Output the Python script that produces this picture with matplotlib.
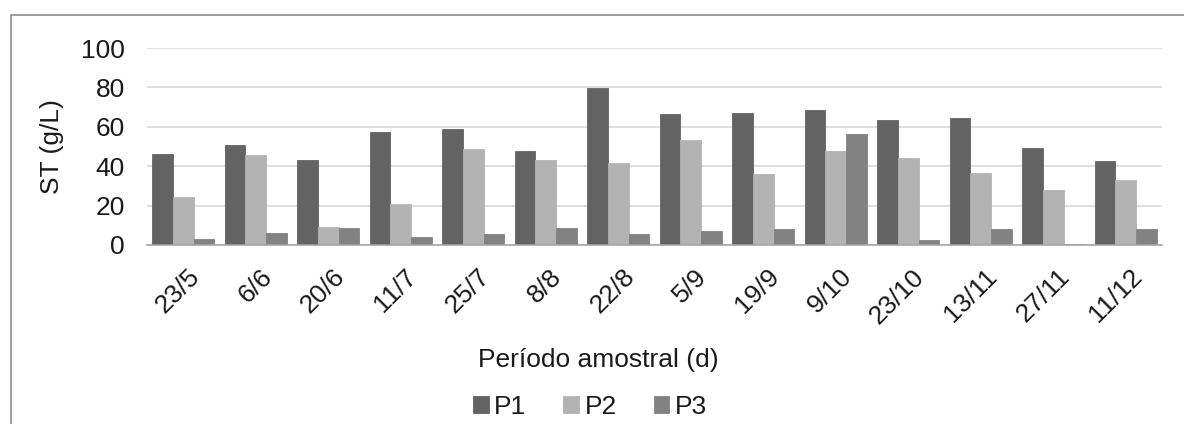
import matplotlib
matplotlib.use("Agg")
import matplotlib.pyplot as plt
from matplotlib.patches import Rectangle
from matplotlib.transforms import ScaledTranslation
import numpy as np

plt.rcParams['font.family'] = ['Liberation Sans', 'DejaVu Sans']

dates = ["23/5", "6/6", "20/6", "11/7", "25/7", "8/8", "22/8", "5/9",
         "19/9", "9/10", "23/10", "13/11", "27/11", "11/12"]
p1 = [46.3, 50.9, 43.4, 57.3, 59.1, 47.7, 79.8, 66.3, 66.8, 68.4, 63.2, 64.3, 49.1, 42.7]
p2 = [24.4, 45.5, 9.1, 21.0, 48.5, 43.4, 41.7, 53.5, 36.1, 47.9, 44.3, 36.4, 27.7, 33.0]
p3 = [3.2, 6.2, 8.5, 3.9, 5.5, 8.7, 5.5, 7.2, 7.9, 56.1, 2.4, 8.0, 0.3, 7.9]
series = [("P1", p1, "#636363"), ("P2", p2, "#b3b3b3"), ("P3", p3, "#828282")]

FS = 19
TXT = '#1a1a1a'

W, H = 1184, 424
fig = plt.figure(figsize=(W / 100, H / 100), dpi=100)
ax = fig.add_axes([147 / W, 1 - 245 / H, (1162 - 147) / W, (245 - 48) / H])

x = np.arange(len(dates))
bw = 0.285
for i, (name, vals, col) in enumerate(series):
    ax.bar(x + (i - 1) * bw, vals, bw, color=col, edgecolor=col,
           linewidth=0.6, label=name, zorder=3)

ax.set_xlim(-0.5, len(dates) - 0.5)
ax.set_ylim(0, 100)
ax.set_yticks(range(0, 101, 20))
ax.grid(axis='y', color='#d9d9d9', linewidth=1.2, zorder=0)
for s in ['top', 'right', 'left']:
    ax.spines[s].set_visible(False)
ax.spines['bottom'].set_color('#a6a6a6')
ax.spines['bottom'].set_linewidth(1.2)
ax.spines['bottom'].set_zorder(4)
ax.tick_params(axis='y', length=0, pad=16, labelsize=FS, labelcolor=TXT)
ax.tick_params(axis='x', length=0, pad=14, labelsize=FS, labelcolor=TXT)
ax.set_xticks(x)
ax.set_xticklabels(dates, rotation=45, ha='right', rotation_mode='anchor')
shift = ScaledTranslation(4 / 100, 0, fig.dpi_scale_trans)
for lab in ax.get_xticklabels():
    lab.set_transform(lab.get_transform() + shift)

ax.set_ylabel("ST (g/L)", fontsize=FS, color=TXT, labelpad=12)
fig.text(598 / W, 1 - 360 / H, "Período amostral (d)", fontsize=FS,
         color=TXT, ha='center', va='center')

fig.legend(loc='center', bbox_to_anchor=(590 / W, 1 - 407 / H), ncol=3,
           frameon=False, fontsize=FS, handlelength=0.6, handleheight=0.6,
           handletextpad=0.2, columnspacing=1.4, labelcolor=TXT)

# outer frame of the chart area
fig.patches.append(Rectangle((11 / W, -0.1), 1.2, 1 - 15 / H + 0.1,
                             transform=fig.transFigure, fill=False,
                             edgecolor='#8c8c8c', linewidth=1.2))

fig.savefig("out.png", dpi=100)
